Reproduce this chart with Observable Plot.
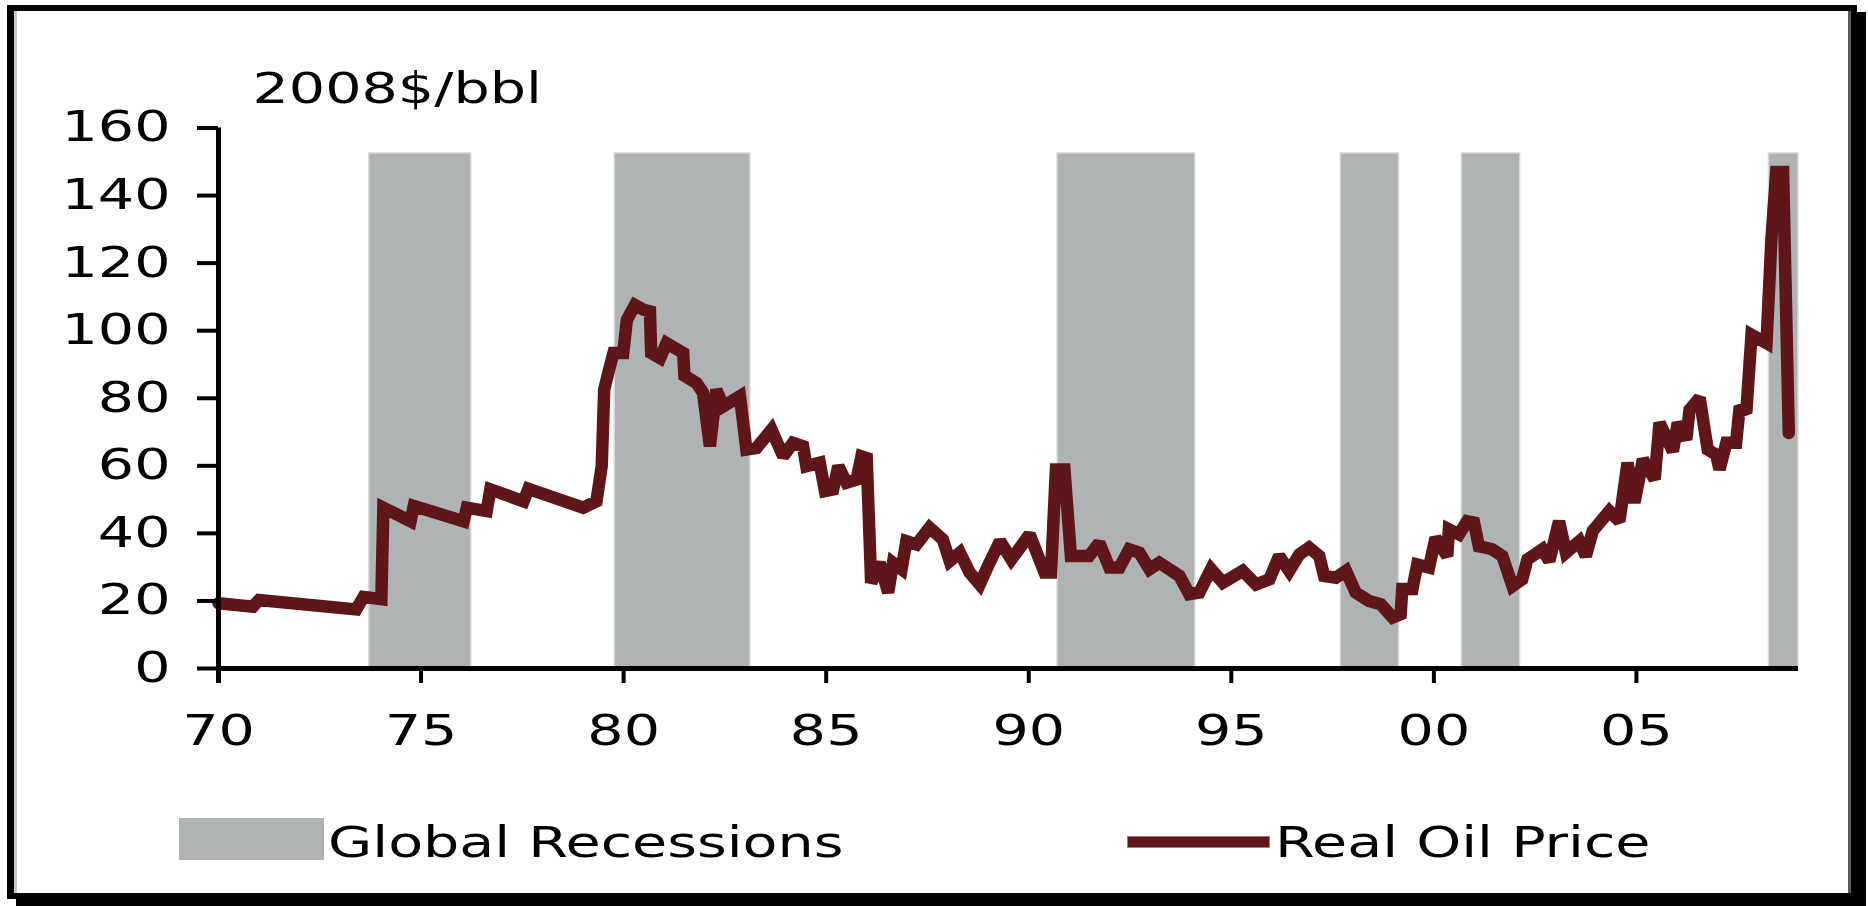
<!DOCTYPE html>
<html>
<head>
<meta charset="utf-8">
<script src="https://cdn.jsdelivr.net/npm/d3@7"></script>
<script src="https://cdn.jsdelivr.net/npm/@observablehq/plot@0.6"></script>
<style>
  html, body { margin: 0; padding: 0; background: #fff; }
  #page { position: relative; width: 1868px; height: 906px; overflow: hidden; background: #fff; }
  #frame {
    position: absolute; left: 7px; top: 5px; width: 1850px; height: 894px;
    box-sizing: border-box; border: 6px solid #000; border-left-width: 7px;
    box-shadow: inset 3px 0 0 #c8c8c8, inset -3px 0 0 #5a5a5a, 9px 7px 0 0 #000;
  }
  #chart { position: absolute; left: 0; top: 0; }
  .lg { position: absolute; }
  .lgtext {
    position: absolute; font-family: "DejaVu Sans", Verdana, sans-serif; font-size: 42px;
    line-height: 42px; color: #000; white-space: nowrap;
    transform: scaleX(1.36); transform-origin: left center;
  }
</style>
</head>
<body>
<div id="page">
  <div id="frame"></div>
  <div id="chart"></div>
  <div class="lg" style="left:179px; top:818px; width:145px; height:42px; background:#b0b3b3;"></div>
  <div class="lgtext" style="left:328px; top:822px;">Global Recessions</div>
  <div class="lg" style="left:1128px; top:837px; width:141px; height:10px; background:#5e161a; box-shadow:0 0 0 1px #a07a7c;"></div>
  <div class="lgtext" style="left:1275px; top:822px;">Real Oil Price</div>
</div>
<script>
// Global recessions (decimal years)
const recessionStart = [1973.72, 1979.78, 1990.71, 1997.70, 2000.69, 2008.27];
const recessionEnd   = [1976.24, 1983.13, 1994.11, 1999.14, 2002.13, 2009.00];
const recessionTop = 152.5;

// Real oil price, 2008$/bbl
const years = [
  1970.0, 1970.85, 1971.0, 1973.4, 1973.58, 1974.02, 1974.07, 1974.74, 1974.82, 1976.05,
  1976.13, 1976.62, 1976.71, 1977.53, 1977.65, 1979.0, 1979.33, 1979.46, 1979.52, 1979.62,
  1979.75, 1979.99, 1980.08, 1980.28, 1980.49, 1980.65, 1980.68, 1980.9, 1981.06, 1981.47,
  1981.5, 1981.8, 1981.96, 1982.13, 1982.29, 1982.46, 1982.87, 1983.03, 1983.28, 1983.65,
  1983.94, 1984.18, 1984.43, 1984.51, 1984.84, 1984.97, 1985.17, 1985.3, 1985.5, 1985.75,
  1985.87, 1986.0, 1986.11, 1986.32, 1986.53, 1986.65, 1986.86, 1986.98, 1987.23, 1987.55,
  1987.88, 1988.05, 1988.3, 1988.54, 1988.79, 1989.0, 1989.29, 1989.57, 1989.81, 1990.02,
  1990.39, 1990.55, 1990.67, 1990.88, 1991.04, 1991.49, 1991.74, 1991.99, 1992.24, 1992.48,
  1992.73, 1992.98, 1993.22, 1993.47, 1993.72, 1993.96, 1994.21, 1994.5, 1994.79, 1995.28,
  1995.61, 1995.94, 1996.18, 1996.43, 1996.68, 1996.92, 1997.17, 1997.29, 1997.58, 1997.83,
  1998.07, 1998.4, 1998.69, 1998.98, 1999.18, 1999.22, 1999.47, 1999.59, 1999.88, 2000.04,
  2000.33, 2000.37, 2000.62, 2000.82, 2000.99, 2001.11, 2001.44, 2001.69, 2001.94, 2002.18,
  2002.31, 2002.68, 2002.85, 2003.09, 2003.26, 2003.59, 2003.75, 2003.92, 2004.33, 2004.58,
  2004.78, 2004.95, 2005.16, 2005.45, 2005.57, 2005.9, 2006.02, 2006.23, 2006.31, 2006.56,
  2006.76, 2006.97, 2007.05, 2007.22, 2007.46, 2007.55, 2007.71, 2007.84, 2008.21, 2008.33,
  2008.45, 2008.62, 2008.76
];
const prices = [
  19.3, 18.3, 20.3, 17.5, 21.2, 20.5, 47.6, 43.6, 48.1, 43.6,
  47.6, 46.6, 53.0, 49.5, 53.2, 47.6, 49.5, 60.0, 82.5, 87.5,
  93.4, 93.4, 103.2, 107.6, 106.2, 105.7, 93.4, 91.9, 96.3, 93.4,
  86.7, 84.5, 81.6, 65.8, 82.5, 77.6, 80.6, 64.8, 65.3, 70.7,
  62.8, 66.8, 65.8, 59.9, 60.9, 52.5, 53.0, 59.9, 55.0, 55.9,
  62.8, 62.3, 25.4, 31.3, 22.5, 31.3, 29.4, 37.7, 36.7, 41.7,
  38.2, 31.8, 34.3, 28.4, 24.9, 30.5, 37.7, 32.3, 36.2, 39.7,
  28.4, 28.4, 58.9, 58.9, 33.3, 33.3, 37.2, 29.9, 29.9, 35.3,
  34.3, 29.4, 31.3, 29.4, 27.4, 22.0, 22.5, 29.4, 25.4, 28.9,
  24.9, 26.4, 33.3, 28.9, 33.8, 35.8, 33.3, 27.4, 26.9, 28.9,
  22.5, 20.0, 19.0, 15.1, 16.1, 23.5, 23.5, 30.8, 29.9, 38.7,
  33.3, 41.2, 39.7, 43.6, 43.2, 36.2, 35.3, 33.3, 24.4, 26.4,
  32.3, 35.3, 31.8, 43.6, 34.3, 37.7, 33.3, 40.7, 46.6, 43.6,
  60.9, 49.1, 61.9, 56.0, 72.7, 64.3, 72.7, 67.8, 76.6, 80.1,
  64.8, 63.3, 58.9, 66.8, 66.8, 77.6, 75.6, 98.8, 96.3, 126.8,
  147.0, 147.0, 69.7
];

const xTicks = [1970, 1975, 1980, 1985, 1990, 1995, 2000, 2005];
const xTickLabels = ["70", "75", "80", "85", "90", "95", "00", "05"];
const yTicks = [0, 20, 40, 60, 80, 100, 120, 140, 160];
const yTitle = "2008$/bbl";

const recessions = recessionStart.map((s, i) => ({start: s, end: recessionEnd[i], top: recessionTop}));
const priceData = years.map((y, i) => ({year: y, price: prices[i]}));

const H = 790;
const chart = Plot.plot({
  width: 1868,
  height: H,
  marginLeft: 218,
  marginRight: 70,
  marginTop: 127.5,
  marginBottom: H - 668,
  style: {fontFamily: "'DejaVu Sans', Verdana, sans-serif", fontSize: "42px", color: "#000", background: "transparent"},
  x: {domain: [1970, 2009]},
  y: {domain: [0, 160]},
  marks: [
    Plot.rectY(recessions, {x1: "start", x2: "end", y1: 0, y2: "top", fill: "#b0b3b3", stroke: "#d9dbdb", strokeWidth: 1.5}),
    Plot.line(priceData, {x: "year", y: "price", stroke: "#5e161a", strokeWidth: 12.5, strokeLinejoin: "miter", strokeMiterlimit: 2}),
    Plot.ruleY([0], {stroke: "#000", strokeWidth: 5}),
    Plot.ruleX([1970], {stroke: "#000", strokeWidth: 5, insetBottom: -15}),
    Plot.axisY(yTicks, {tickSize: 21, tickPadding: 27, strokeWidth: 4, stroke: "#000", fill: "#000", label: null, tickFormat: d => String(d)}),
    Plot.axisX(xTicks, {tickSize: 15, tickPadding: 32, strokeWidth: 4, stroke: "#000", fill: "#000", label: null, tickFormat: d => xTickLabels[xTicks.indexOf(d)]}),
    Plot.text([yTitle], {frameAnchor: "top-left", textAnchor: "start", lineAnchor: "middle", dx: 34, dy: -38.5, fill: "#000", fontSize: 42})
  ]
});

// The reference's lettering is horizontally stretched: widen each label about its anchor.
chart.querySelectorAll("text").forEach(t => {
  t.setAttribute("transform", (t.getAttribute("transform") || "") + " scale(1.36,1)");
});

document.getElementById("chart").appendChild(chart);
</script>
</body>
</html>
